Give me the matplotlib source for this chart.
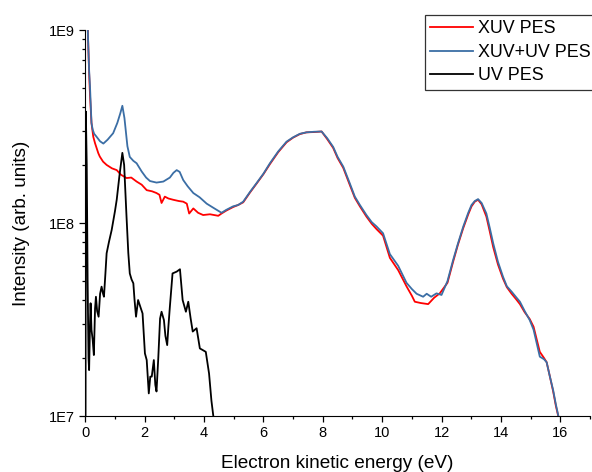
import numpy as np
import matplotlib
matplotlib.use("Agg")
import matplotlib.pyplot as plt
from matplotlib.ticker import LogLocator, NullFormatter

plt.rcParams['font.family'] = ['Liberation Sans', 'DejaVu Sans']

# XUV+UV PES (blue)
x_both = [0.07, 0.10, 0.13, 0.16, 0.21, 0.25, 0.30, 0.38, 0.50, 0.61, 0.75, 0.94, 1.08, 1.18, 1.25,
          1.32, 1.42, 1.50, 1.62, 1.73, 1.90, 2.05, 2.18, 2.40, 2.63, 2.85, 2.97, 3.08, 3.18, 3.30,
          3.45, 3.64, 3.85, 4.09, 4.35, 4.59, 4.75, 4.98, 5.15, 5.32, 5.55, 5.77, 6.00, 6.22, 6.50,
          6.78, 7.00, 7.23, 7.45, 7.70, 7.96, 8.15, 8.35, 8.50, 8.69, 8.90, 9.08, 9.25, 9.47, 9.65,
          9.81, 10.03, 10.26, 10.54, 10.82, 11.00, 11.16, 11.38, 11.50, 11.65, 11.83, 12.00, 12.20,
          12.39, 12.55, 12.73, 12.90, 13.01, 13.12, 13.23, 13.35, 13.51, 13.62, 13.74, 13.90, 14.07,
          14.20, 14.36, 14.50, 14.64, 14.80, 14.97, 15.10, 15.31, 15.45, 15.54, 15.65, 15.76, 15.85,
          15.93, 15.98]
y_both = [12, 8.5, 6.2, 5.1, 3.3, 3.05, 2.9, 2.8, 2.65, 2.58, 2.7, 2.92, 3.3, 3.7, 4.05,
          3.5, 2.5, 2.2, 2.1, 2.04, 1.85, 1.72, 1.65, 1.62, 1.64, 1.72, 1.82, 1.88, 1.84, 1.67,
          1.55, 1.43, 1.36, 1.26, 1.19, 1.13, 1.17, 1.22, 1.24, 1.29, 1.45, 1.61, 1.8, 2.04, 2.35,
          2.64, 2.78, 2.9, 2.95, 2.97, 2.98, 2.75, 2.48, 2.2, 1.96, 1.62, 1.37, 1.24, 1.10, 1.01,
          0.96, 0.885, 0.69, 0.60, 0.49, 0.455, 0.43, 0.415, 0.43, 0.415, 0.432, 0.424, 0.50,
          0.643, 0.78, 0.957, 1.13, 1.24, 1.30, 1.33, 1.27, 1.12, 0.95, 0.785, 0.63, 0.527,
          0.47, 0.441, 0.415, 0.391, 0.35, 0.314, 0.28, 0.203, 0.197, 0.19, 0.16, 0.136, 0.115,
          0.101, 0.09]

# XUV PES (red)
x_xuv = [0.07, 0.10, 0.13, 0.16, 0.21, 0.27, 0.33, 0.44, 0.49, 0.60, 0.72, 0.90, 1.06, 1.20, 1.39,
         1.55, 1.73, 1.90, 2.07, 2.25, 2.40, 2.50, 2.57, 2.68, 2.80, 2.96, 3.15, 3.30, 3.42, 3.50,
         3.64, 3.80, 3.97, 4.20, 4.48, 4.59, 4.75, 4.98, 5.15, 5.32, 5.55, 5.77, 6.00, 6.22, 6.50,
         6.78, 7.00, 7.23, 7.45, 7.70, 7.96, 8.15, 8.35, 8.50, 8.69, 8.90, 9.08, 9.25, 9.47, 9.65,
         9.81, 10.03, 10.26, 10.54, 10.82, 11.00, 11.10, 11.30, 11.55, 11.75, 11.94, 12.20,
         12.39, 12.55, 12.73, 12.90, 13.01, 13.12, 13.23, 13.35, 13.51, 13.62, 13.74, 13.90, 14.07,
         14.20, 14.36, 14.50, 14.64, 14.80, 14.97, 15.10, 15.31, 15.45, 15.54, 15.65, 15.76, 15.85,
         15.93, 15.98]
y_xuv = [12, 8.5, 6.0, 4.6, 3.3, 2.8, 2.59, 2.3, 2.21, 2.08, 2.0, 1.92, 1.88, 1.78, 1.71,
         1.72, 1.64, 1.58, 1.48, 1.46, 1.43, 1.40, 1.27, 1.37, 1.34, 1.32, 1.30, 1.29, 1.26, 1.12,
         1.19, 1.13, 1.10, 1.11, 1.09, 1.12, 1.16, 1.21, 1.24, 1.28, 1.44, 1.60, 1.79, 2.02, 2.33,
         2.62, 2.77, 2.89, 2.95, 2.96, 2.98, 2.72, 2.45, 2.17, 1.93, 1.59, 1.35, 1.22, 1.08, 0.99,
         0.93, 0.86, 0.66, 0.57, 0.47, 0.42, 0.391, 0.385, 0.38, 0.41, 0.432, 0.49,
         0.63, 0.77, 0.94, 1.11, 1.22, 1.29, 1.32, 1.25, 1.08, 0.91, 0.75, 0.61, 0.515,
         0.465, 0.43, 0.405, 0.38, 0.345, 0.318, 0.29, 0.215, 0.20, 0.19, 0.16, 0.134, 0.113,
         0.10, 0.088]

# UV PES (black)
x_uv = [0.01, 0.02, 0.05, 0.08, 0.11, 0.13, 0.16, 0.18, 0.21, 0.25, 0.29, 0.33, 0.36, 0.40, 0.45,
        0.50, 0.55, 0.60, 0.63, 0.68, 0.72, 0.80, 0.89, 1.00, 1.06, 1.15, 1.25, 1.31, 1.39, 1.45,
        1.50, 1.56, 1.62, 1.66, 1.71, 1.78, 1.85, 1.93, 2.01, 2.07, 2.14, 2.19, 2.24, 2.31, 2.36,
        2.40, 2.46, 2.52, 2.57, 2.65, 2.70, 2.76, 2.80, 2.85, 2.94, 3.08, 3.19, 3.28, 3.39, 3.47,
        3.55, 3.62, 3.75, 3.86, 3.95, 4.06, 4.17, 4.25, 4.31, 4.35]
y_uv = [0.09, 3.78, 2.0, 0.5, 0.2, 0.173, 0.30, 0.384, 0.28, 0.248, 0.207, 0.36, 0.415, 0.35, 0.327,
        0.43, 0.468, 0.43, 0.415, 0.55, 0.697, 0.80, 0.92, 1.15, 1.32, 1.75, 2.31, 2.0, 1.08, 0.70,
        0.548, 0.51, 0.487, 0.40, 0.327, 0.399, 0.37, 0.340, 0.211, 0.195, 0.131, 0.160, 0.160, 0.195, 0.145,
        0.134, 0.20, 0.32, 0.347, 0.314, 0.26, 0.233, 0.29, 0.368, 0.548, 0.56, 0.576, 0.399, 0.347, 0.391,
        0.32, 0.274, 0.285, 0.224, 0.22, 0.215, 0.166, 0.12, 0.101, 0.09]

fig = plt.figure(figsize=(5.92, 4.72), dpi=100)
ax = fig.add_axes([0.144, 0.1186, 0.8526, 0.8178])

ax.plot(x_xuv, np.array(y_xuv) * 1e8, color='#ff0000', lw=1.3, label='XUV PES')
ax.plot(x_both, np.array(y_both) * 1e8, color='#3b6ea5', lw=1.3, label='XUV+UV PES')
ax.plot(x_uv, np.array(y_uv) * 1e8, color='black', lw=1.3, label='UV PES')

ax.set_yscale('log')
ax.set_ylim(1e7, 1e9)
ax.set_xlim(0, 17)
ax.set_yticks([1e7, 1e8, 1e9])
ax.set_yticklabels(['1E7', '1E8', '1E9'])
ax.yaxis.set_minor_locator(LogLocator(base=10, subs=np.arange(2, 10), numticks=20))
ax.yaxis.set_minor_formatter(NullFormatter())
ax.set_xticks([0, 2, 4, 6, 8, 10, 12, 14, 16])
ax.set_xticks(np.arange(1, 18, 2), minor=True)

ax.spines['top'].set_visible(False)
ax.spines['right'].set_visible(False)
ax.tick_params(which='major', direction='out', length=4.3, width=0.9, labelsize=10.5, pad=3)
ax.tick_params(which='minor', direction='out', length=2.3, width=0.9)

ax.set_xlabel('Electron kinetic energy (eV)', fontsize=13.7, labelpad=11)
ax.set_ylabel('Intensity (arb. units)', fontsize=13.6, labelpad=14)

leg = ax.legend(loc='upper left', bbox_to_anchor=(0.718, 0.968), bbox_transform=fig.transFigure,
                fontsize=12.9, frameon=True, fancybox=False, edgecolor='black',
                handlelength=2.35, handletextpad=0.3, labelspacing=0.36, borderpad=0.3,
                borderaxespad=0)
leg.get_frame().set_linewidth(0.9)

fig.savefig('out.png', dpi=100)
